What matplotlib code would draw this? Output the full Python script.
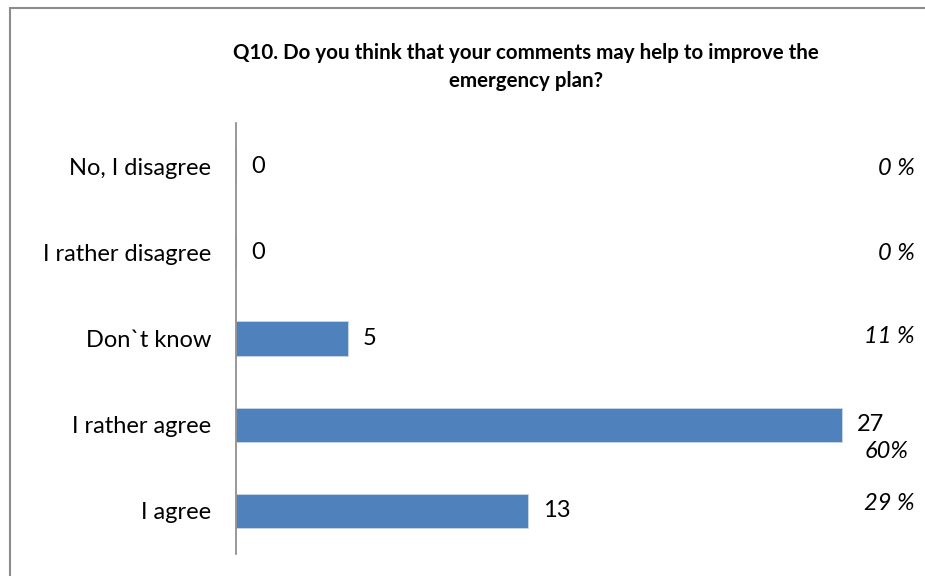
import matplotlib
matplotlib.use('Agg')
import matplotlib.pyplot as plt
from matplotlib.patches import Rectangle

plt.rcParams['font.family'] = ['Lato', 'DejaVu Sans']

# survey answers, top to bottom
answers = ['No, I disagree', 'I rather disagree', 'Don`t know', 'I rather agree', 'I agree']
counts = [0, 0, 5, 27, 13]
shares = ['0 %', '0 %', '11 %', '60%', '29 %']

W, H = 925, 576
fig = plt.figure(figsize=(W / 100, H / 100), dpi=100)

# chart frame (runs off the right and bottom edge)
fig.patches.append(Rectangle((10 / W, -0.1), 1.2, 1 - 8 / H + 0.1, transform=fig.transFigure,
                             fill=False, edgecolor='#8c8c8c', linewidth=1.5))

ax = fig.add_axes([236 / W, (H - 554) / H, (909 - 236) / W, (554 - 123) / H])
y = list(range(len(answers)))
ax.barh(y, counts, height=0.395, color='#4f81bd', edgecolor='#c9d7ea', linewidth=0.6)
ax.set_xlim(0, 30)
ax.set_ylim(len(answers) - 0.5, -0.5)
ax.set_yticks(y)
ax.set_yticklabels(answers, fontsize=17)
ax.tick_params(axis='y', length=0, pad=18)
ax.set_xticks([])
for s in ['top', 'right', 'bottom']:
    ax.spines[s].set_visible(False)
ax.spines['left'].set_color('#868686')
ax.spines['left'].set_linewidth(1.2)

for yi, c in zip(y, counts):
    ax.annotate(str(c), (c, yi), xytext=(15, 0), textcoords='offset pixels',
                ha='left', va='center', fontsize=17)

# percentage column at the right, nudged in pixels
share_dx = [0, 0, 0, -6, 0]
share_dy = [-2, -1, 2, -27, 7]
for yi, s, dx, dy in zip(y, shares, share_dx, share_dy):
    ax.annotate(s, (1, yi), xycoords=('axes fraction', 'data'), xytext=(6 + dx, dy),
                textcoords='offset pixels', ha='right', va='center', fontsize=17, style='italic')

fig.text(526 / W, 1 - 67 / H, 'Q10. Do you think that your comments may help to improve the\nemergency plan?',
         ha='center', va='center', fontsize=14.8, fontweight='bold', linespacing=1.5)

fig.savefig('out.png', dpi=100)
